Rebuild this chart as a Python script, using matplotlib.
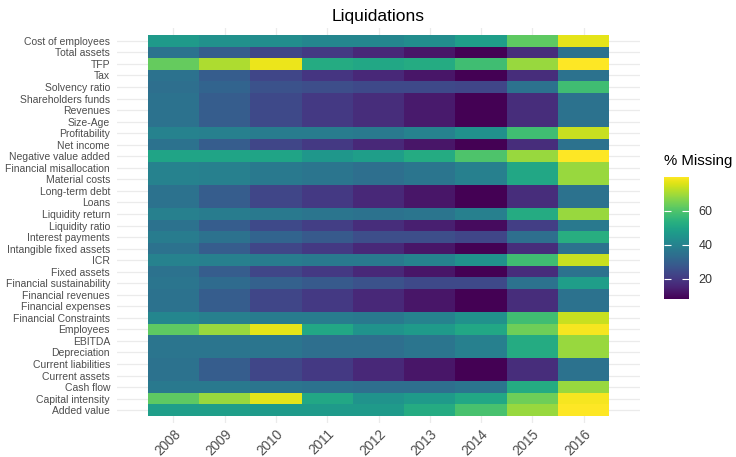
import matplotlib
matplotlib.use("Agg")
import matplotlib.pyplot as plt
import numpy as np

plt.rcParams['font.family'] = ['Liberation Sans', 'DejaVu Sans']

years = ["2008", "2009", "2010", "2011", "2012", "2013", "2014", "2015", "2016"]

variables = [
    "Cost of employees", "Total assets", "TFP", "Tax", "Solvency ratio",
    "Shareholders funds", "Revenues", "Size-Age", "Profitability", "Net income",
    "Negative value added", "Financial misallocation", "Material costs",
    "Long-term debt", "Loans", "Liquidity return", "Liquidity ratio",
    "Interest payments", "Intangible fixed assets", "ICR", "Fixed assets",
    "Financial sustainability", "Financial revenues", "Financial expenses",
    "Financial Constraints", "Employees", "EBITDA", "Depreciation",
    "Current liabilities", "Current assets", "Cash flow", "Capital intensity",
    "Added value",
]

cost_of_employees = [47, 44, 43, 41, 41, 43, 48, 62, 77]
total_assets = [35, 29, 23, 20, 16, 12, 8, 17, 35]
tfp = [63, 71, 78, 52, 51, 52, 58, 69, 80]
tax = [35, 29, 23, 19, 16, 12, 8, 17, 35]
solvency_ratio = [34, 31, 26, 25, 24, 24, 23, 35, 58]
shareholders_funds = [35, 29, 24, 20, 17, 13, 8, 17, 35]
revenues = [35, 29, 24, 20, 17, 13, 8, 17, 35]
size_age = [35, 29, 24, 20, 17, 13, 8, 17, 35]
profitability = [40, 39, 38, 38, 37, 40, 44, 58, 74]
net_income = [35, 29, 23, 20, 16, 12, 8, 17, 35]
negative_value_added = [50, 50, 50, 46, 48, 52, 60, 69, 80]
financial_misallocation = [40, 39, 37, 36, 34, 36, 39, 51, 69]
material_costs = [40, 39, 37, 36, 34, 36, 39, 51, 69]
long_term_debt = [35, 29, 23, 20, 16, 12, 8, 17, 35]
loans = [35, 29, 23, 20, 16, 12, 8, 17, 35]
liquidity_return = [39, 38, 37, 36, 35, 36, 39, 52, 69]
liquidity_ratio = [35, 29, 24, 21, 17, 14, 10, 21, 37]
interest_payments = [38, 35, 31, 28, 25, 25, 23, 34, 53]
intangible_fixed_assets = [35, 29, 23, 20, 16, 12, 8, 17, 35]
icr = [40, 39, 38, 37, 37, 40, 44, 58, 74]
fixed_assets = [35, 29, 23, 20, 16, 12, 8, 17, 35]
financial_sustainability = [36, 33, 30, 28, 26, 24, 24, 35, 48]
financial_revenues = [35, 29, 23, 20, 16, 12, 8, 17, 35]
financial_expenses = [35, 29, 23, 20, 16, 12, 8, 17, 35]
financial_constraints = [41, 39, 38, 38, 37, 40, 44, 58, 74]
employees = [62, 69, 77, 51, 45, 47, 51, 64, 79]
ebitda = [36, 36, 36, 34, 34, 36, 39, 52, 69]
depreciation = [36, 36, 36, 34, 34, 36, 39, 52, 69]
current_liabilities = [35, 29, 23, 20, 16, 12, 8, 17, 35]
current_assets = [35, 29, 23, 20, 16, 12, 8, 17, 35]
cash_flow = [37, 37, 36, 35, 34, 34, 36, 52, 69]
capital_intensity = [62, 69, 77, 51, 45, 47, 51, 64, 79]
added_value = [48, 48, 47, 47, 47, 52, 59, 69, 80]

rows = [
    cost_of_employees, total_assets, tfp, tax, solvency_ratio,
    shareholders_funds, revenues, size_age, profitability, net_income,
    negative_value_added, financial_misallocation, material_costs,
    long_term_debt, loans, liquidity_return, liquidity_ratio,
    interest_payments, intangible_fixed_assets, icr, fixed_assets,
    financial_sustainability, financial_revenues, financial_expenses,
    financial_constraints, employees, ebitda, depreciation,
    current_liabilities, current_assets, cash_flow, capital_intensity,
    added_value,
]
Z = np.array(rows, dtype=float)

vmin, vmax = 8, 80
colorbar_ticks = [20, 40, 60]

fig = plt.figure(figsize=(7.36, 4.57), dpi=100)
W, H = 736, 457
panel_l, panel_r = 117, 640
panel_t, panel_b = 28.1, 422.9
ax = fig.add_axes([panel_l / W, 1 - panel_b / H, (panel_r - panel_l) / W, (panel_b - panel_t) / H])

nrow, ncol = Z.shape
xe = np.arange(ncol + 1) - 0.5
ye = np.arange(nrow + 1) - 0.5
mesh = ax.pcolormesh(xe, ye, Z, cmap='viridis', vmin=vmin, vmax=vmax, zorder=2)
ax.set_xlim(-1.1, ncol - 1 + 1.1)
ax.set_ylim(nrow - 1 + 1.1, -1.1)

ax.set_xticks(np.arange(ncol))
ax.set_xticklabels(years, rotation=45, ha='right', va='top', rotation_mode='anchor',
                   fontsize=9.8, color='#4d4d4d')
ax.set_yticks(np.arange(nrow))
ax.set_yticklabels(variables, fontsize=7.5, color='#4d4d4d')
ax.tick_params(axis='both', length=0)
ax.tick_params(axis='y', pad=5)
ax.tick_params(axis='x', pad=3)
ax.grid(True, color='#ebebeb', linewidth=0.9, zorder=0)
ax.set_axisbelow(True)
for s in ax.spines.values():
    s.set_visible(False)

fig.text((panel_l + panel_r) / 2 / W, 1 - 17 / H, "Liquidations", ha='center', va='center',
         fontsize=12.5, color='black')

cax = fig.add_axes([664 / W, 1 - 299 / H, 25 / W, 122 / H])
cb = fig.colorbar(mesh, cax=cax, ticks=colorbar_ticks)
cb.outline.set_visible(False)
cax.tick_params(axis='y', direction='in', color='white', length=5, width=0.8,
                left=True, right=True, labelsize=9, labelcolor='#333333', pad=7)
fig.text(664 / W, 1 - 161 / H, "% Missing", ha='left', va='center', fontsize=10.8, color='black')

fig.savefig("out.png", dpi=100, facecolor='white')
